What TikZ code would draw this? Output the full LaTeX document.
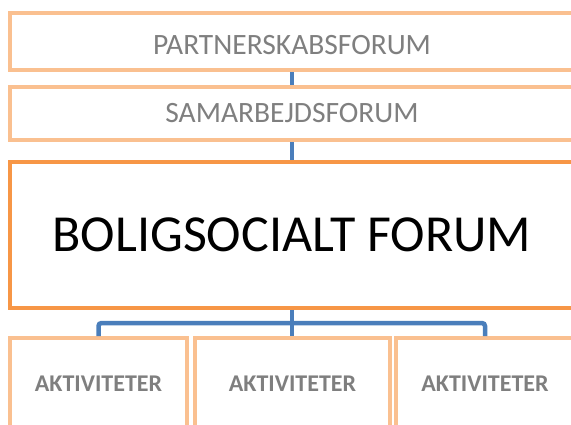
\documentclass[tikz,border=0pt]{standalone}
\usepackage{fontspec}
\setmainfont{Carlito}
\definecolor{lorange}{HTML}{FAC090}
\definecolor{dorange}{HTML}{F79646}
\definecolor{cblue}{HTML}{4A7EBB}
\definecolor{tgray}{HTML}{7F7F7F}
\tikzset{
  lbox/.style={draw=lorange, line width=4pt, fill=white, rectangle, inner sep=0pt, text=tgray},
  dbox/.style={draw=dorange, line width=3.5pt, fill=white, rectangle, inner sep=0pt, text=black},
  conn/.style={draw=cblue, line width=4.5pt},
}
\begin{document}
\begin{tikzpicture}[x=1pt,y=-1pt]
\useasboundingbox (0,0) rectangle (571,424);
\clip (0,0) rectangle (571,424);
\node[lbox, minimum width=564pt, minimum height=57pt, text height=25pt, text depth=0pt, font=\fontsize{29.5}{32}\selectfont] (p) at (292,41.5) {PARTNERSKABSFORUM};
\node[lbox, minimum width=564pt, minimum height=53pt, font=\fontsize{29.5}{32}\selectfont] (s) at (292,113.5) {SAMARBEJDSFORUM};
\node[dbox, minimum width=564pt, minimum height=146pt, font=\fontsize{52}{56}\selectfont] (b) at (292,235) {BOLIGSOCIALT FORUM};
\node[lbox, minimum width=177pt, minimum height=92pt, font=\fontsize{24}{27}\selectfont\bfseries] (a1) at (98.5,384) {AKTIVITETER};
\node[lbox, minimum width=195pt, minimum height=92pt, font=\fontsize{24}{27}\selectfont\bfseries] (a2) at (292.5,384) {AKTIVITETER};
\node[lbox, minimum width=178pt, minimum height=92pt, font=\fontsize{24}{27}\selectfont\bfseries] (a3) at (485,384) {AKTIVITETER};
\coordinate (bus) at (292,323);
\draw[conn] (p.south) -- (s.north);
\draw[conn] (s.south) -- (b.north);
\draw[conn] (b.south) -- (b.south |- a2.north);
\draw[conn, rounded corners=3pt] (a1.north) |- (bus) -| (a3.north);
\end{tikzpicture}
\end{document}
